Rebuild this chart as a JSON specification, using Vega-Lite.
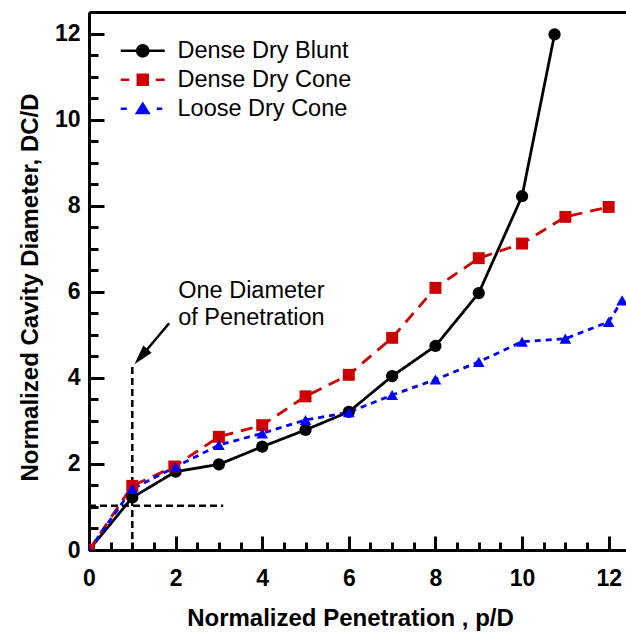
{
  "$schema": "https://vega.github.io/schema/vega-lite/v6.json",
  "width": 537,
  "height": 538,
  "autosize": {"type": "none"},
  "padding": {"left": 89, "top": 12, "right": 0, "bottom": 86},
  "background": "white",
  "config": {
    "view": {"stroke": null},
    "font": "Liberation Sans",
    "legend": {
      "orient": "none",
      "legendX": 42,
      "legendY": 27,
      "symbolSize": 400,
      "symbolStrokeWidth": 0,
      "labelFont": "Liberation Sans",
      "labelFontSize": 23.5,
      "labelColor": "black",
      "labelOffset": 23,
      "labelLimit": 400,
      "rowPadding": 4,
      "padding": 0
    }
  },
  "datasets": {
    "curves": [
      {"series": "Dense Dry Blunt", "x": 0, "y": 0},
      {"series": "Dense Dry Blunt", "x": 1, "y": 1.22},
      {"series": "Dense Dry Blunt", "x": 2, "y": 1.82},
      {"series": "Dense Dry Blunt", "x": 3, "y": 1.99},
      {"series": "Dense Dry Blunt", "x": 4, "y": 2.4},
      {"series": "Dense Dry Blunt", "x": 5, "y": 2.79},
      {"series": "Dense Dry Blunt", "x": 6, "y": 3.21},
      {"series": "Dense Dry Blunt", "x": 7, "y": 4.04},
      {"series": "Dense Dry Blunt", "x": 8, "y": 4.74},
      {"series": "Dense Dry Blunt", "x": 9, "y": 5.97},
      {"series": "Dense Dry Blunt", "x": 10, "y": 8.22},
      {"series": "Dense Dry Blunt", "x": 10.75, "y": 11.98},
      {"series": "Dense Dry Cone", "x": 0, "y": 0},
      {"series": "Dense Dry Cone", "x": 1, "y": 1.49},
      {"series": "Dense Dry Cone", "x": 1.97, "y": 1.94},
      {"series": "Dense Dry Cone", "x": 3, "y": 2.63},
      {"series": "Dense Dry Cone", "x": 4, "y": 2.9},
      {"series": "Dense Dry Cone", "x": 5, "y": 3.57},
      {"series": "Dense Dry Cone", "x": 6, "y": 4.07},
      {"series": "Dense Dry Cone", "x": 7, "y": 4.93},
      {"series": "Dense Dry Cone", "x": 8, "y": 6.09},
      {"series": "Dense Dry Cone", "x": 9, "y": 6.78},
      {"series": "Dense Dry Cone", "x": 10, "y": 7.12},
      {"series": "Dense Dry Cone", "x": 11, "y": 7.74},
      {"series": "Dense Dry Cone", "x": 12, "y": 7.97},
      {"series": "Loose Dry Cone", "x": 0, "y": 0},
      {"series": "Loose Dry Cone", "x": 1, "y": 1.42},
      {"series": "Loose Dry Cone", "x": 2, "y": 1.93},
      {"series": "Loose Dry Cone", "x": 3, "y": 2.44},
      {"series": "Loose Dry Cone", "x": 4, "y": 2.71},
      {"series": "Loose Dry Cone", "x": 5, "y": 3.02},
      {"series": "Loose Dry Cone", "x": 6, "y": 3.2},
      {"series": "Loose Dry Cone", "x": 7, "y": 3.6},
      {"series": "Loose Dry Cone", "x": 8, "y": 3.96},
      {"series": "Loose Dry Cone", "x": 9, "y": 4.37},
      {"series": "Loose Dry Cone", "x": 10, "y": 4.84},
      {"series": "Loose Dry Cone", "x": 11, "y": 4.91},
      {"series": "Loose Dry Cone", "x": 12, "y": 5.3},
      {"series": "Loose Dry Cone", "x": 12.31, "y": 5.8}
    ],
    "guides": [
      {"x": 1, "y": 0, "x2": 1, "y2": 4.29},
      {"x": 0, "y": 1.03, "x2": 3.1, "y2": 1.03}
    ],
    "arrow": [
      {"x": 1.85, "y": 5.27, "x2": 1.2, "y2": 4.49}
    ],
    "arrowhead": [
      {"x": 1.2, "y": 4.49}
    ],
    "note": [
      {"x": 2.06, "y": 5.855, "label": "One Diameter\nof Penetration"}
    ]
  },
  "resolve": {
    "scale": {"color": "independent", "shape": "independent", "strokeDash": "independent", "size": "independent"},
    "axis": {"x": "independent", "y": "independent"}
  },
  "layer": [
    {
      "data": {"name": "guides"},
      "mark": {"type": "rule", "strokeDash": [7, 4], "strokeWidth": 2.5, "color": "black"},
      "encoding": {
        "x": {
          "field": "x", "type": "quantitative",
          "scale": {"domain": [0, 12.4], "nice": false, "zero": false},
          "axis": {
            "orient": "bottom", "values": [0, 2, 4, 6, 8, 10, 12],
            "tickSize": -14, "tickWidth": 3, "tickColor": "black",
            "domainWidth": 3, "domainColor": "black", "grid": false,
            "labelFont": "Liberation Sans", "labelFontSize": 23, "labelFontWeight": "bold",
            "labelColor": "black", "labelPadding": 31, "labelFlush": false,
            "title": "Normalized Penetration , p/D",
            "titleFont": "Liberation Sans", "titleFontSize": 24, "titleFontWeight": "bold",
            "titleColor": "black", "titlePadding": 16, "titleX": 261
          }
        },
        "y": {
          "field": "y", "type": "quantitative",
          "scale": {"domain": [0, 12.5], "nice": false, "zero": false},
          "axis": {
            "orient": "left", "values": [0, 2, 4, 6, 8, 10, 12],
            "tickSize": -15, "tickWidth": 3, "tickColor": "black",
            "domainWidth": 3, "domainColor": "black", "grid": false,
            "labelFont": "Liberation Sans", "labelFontSize": 23, "labelFontWeight": "bold",
            "labelColor": "black", "labelPadding": 24, "labelFlush": false,
            "title": "Normalized Cavity Diameter, DC/D",
            "titleFont": "Liberation Sans", "titleFontSize": 24, "titleFontWeight": "bold",
            "titleColor": "black", "titlePadding": 12, "titleY": 275
          }
        },
        "x2": {"field": "x2"},
        "y2": {"field": "y2"}
      }
    },
    {
      "data": {"name": "arrow"},
      "mark": {"type": "rule", "strokeWidth": 2.5, "color": "black"},
      "encoding": {
        "x": {
          "field": "x", "type": "quantitative",
          "scale": {"domain": [0, 12.4], "nice": false, "zero": false},
          "axis": {
            "orient": "bottom",
            "values": [0, 0.5, 1, 1.5, 2, 2.5, 3, 3.5, 4, 4.5, 5, 5.5, 6, 6.5, 7, 7.5, 8, 8.5, 9, 9.5, 10, 10.5, 11, 11.5, 12],
            "tickSize": -8, "tickWidth": 3, "tickColor": "black",
            "domain": false, "labels": false, "grid": false, "title": null
          }
        },
        "y": {
          "field": "y", "type": "quantitative",
          "scale": {"domain": [0, 12.5], "nice": false, "zero": false},
          "axis": {
            "orient": "left",
            "values": [0, 0.5, 1, 1.5, 2, 2.5, 3, 3.5, 4, 4.5, 5, 5.5, 6, 6.5, 7, 7.5, 8, 8.5, 9, 9.5, 10, 10.5, 11, 11.5, 12],
            "tickSize": -9, "tickWidth": 3, "tickColor": "black",
            "domain": false, "labels": false, "grid": false, "title": null
          }
        },
        "x2": {"field": "x2"},
        "y2": {"field": "y2"}
      }
    },
    {
      "data": {"name": "arrowhead"},
      "mark": {"type": "point", "shape": "M0,-1L0.55,1L-0.55,1Z", "size": 400, "angle": 220.5, "filled": true, "color": "black", "opacity": 1},
      "encoding": {
        "x": {
          "field": "x", "type": "quantitative",
          "scale": {"domain": [0, 12.4], "nice": false, "zero": false},
          "axis": {
            "orient": "top", "ticks": false, "labels": false, "grid": false, "title": null,
            "domain": true, "domainWidth": 3, "domainColor": "black"
          }
        },
        "y": {
          "field": "y", "type": "quantitative",
          "scale": {"domain": [0, 12.5], "nice": false, "zero": false},
          "axis": null
        }
      }
    },
    {
      "data": {"name": "note"},
      "mark": {"type": "text", "align": "left", "baseline": "alphabetic", "font": "Liberation Sans", "fontSize": 23.5, "lineBreak": "\n", "lineHeight": 27, "color": "black"},
      "encoding": {
        "x": {"field": "x", "type": "quantitative", "scale": {"domain": [0, 12.4], "nice": false, "zero": false}, "axis": null},
        "y": {"field": "y", "type": "quantitative", "scale": {"domain": [0, 12.5], "nice": false, "zero": false}, "axis": null},
        "text": {"field": "label"}
      }
    },
    {
      "data": {"name": "curves"},
      "mark": {"type": "line", "strokeWidth": 2.8, "clip": true},
      "encoding": {
        "x": {"field": "x", "type": "quantitative", "scale": {"domain": [0, 12.4], "nice": false, "zero": false}, "axis": null},
        "y": {"field": "y", "type": "quantitative", "scale": {"domain": [0, 12.5], "nice": false, "zero": false}, "axis": null},
        "color": {
          "field": "series", "type": "nominal",
          "scale": {"domain": ["Dense Dry Blunt", "Dense Dry Cone", "Loose Dry Cone"], "range": ["#000000", "#CC0000", "#0000FF"]},
          "legend": null
        },
        "strokeDash": {
          "field": "series", "type": "nominal",
          "scale": {"domain": ["Dense Dry Blunt", "Dense Dry Cone", "Loose Dry Cone"], "range": [[1, 0], [12, 8], [6, 5]]},
          "legend": null
        }
      }
    },
    {
      "data": {"name": "curves"},
      "mark": {"type": "point", "filled": true, "opacity": 1, "clip": true},
      "encoding": {
        "x": {"field": "x", "type": "quantitative", "scale": {"domain": [0, 12.4], "nice": false, "zero": false}, "axis": null},
        "y": {"field": "y", "type": "quantitative", "scale": {"domain": [0, 12.5], "nice": false, "zero": false}, "axis": null},
        "color": {
          "field": "series", "type": "nominal",
          "scale": {"domain": ["Dense Dry Blunt", "Dense Dry Cone", "Loose Dry Cone"], "range": ["#000000", "#CC0000", "#0000FF"]},
          "legend": null
        },
        "shape": {
          "field": "series", "type": "nominal",
          "scale": {"domain": ["Dense Dry Blunt", "Dense Dry Cone", "Loose Dry Cone"], "range": ["circle", "square", "triangle-up"]},
          "legend": null
        },
        "size": {
          "field": "series", "type": "nominal",
          "scale": {"domain": ["Dense Dry Blunt", "Dense Dry Cone", "Loose Dry Cone"], "range": [150, 136, 210]},
          "legend": null
        }
      }
    },
    {
      "data": {"name": "curves"},
      "transform": [{"filter": "false"}],
      "mark": {"type": "point", "filled": true, "opacity": 1},
      "encoding": {
        "color": {
          "field": "series", "type": "nominal",
          "scale": {"domain": ["Dense Dry Blunt", "Dense Dry Cone", "Loose Dry Cone"], "range": ["#000000", "#CC0000", "#0000FF"]},
          "legend": {"title": null}
        },
        "shape": {
          "field": "series", "type": "nominal",
          "scale": {
            "domain": ["Dense Dry Blunt", "Dense Dry Cone", "Loose Dry Cone"],
            "range": [
              "M-2.2,-0.13H2.2V0.13H-2.2Z M0.68,0A0.68,0.68 0 1 1 -0.68,0A0.68,0.68 0 1 1 0.68,0Z",
              "M-2.2,-0.13H-1.35V0.13H-2.2Z M1.3,-0.13H2.2V0.13H1.3Z M-0.62,-0.62H0.62V0.62H-0.62Z",
              "M-2.2,-0.13H-1.6V0.13H-2.2Z M1.4,-0.13H1.95V0.13H1.4Z M0,-0.72L0.8,0.55L-0.8,0.55Z"
            ]
          },
          "legend": {"title": null}
        }
      }
    }
  ]
}
